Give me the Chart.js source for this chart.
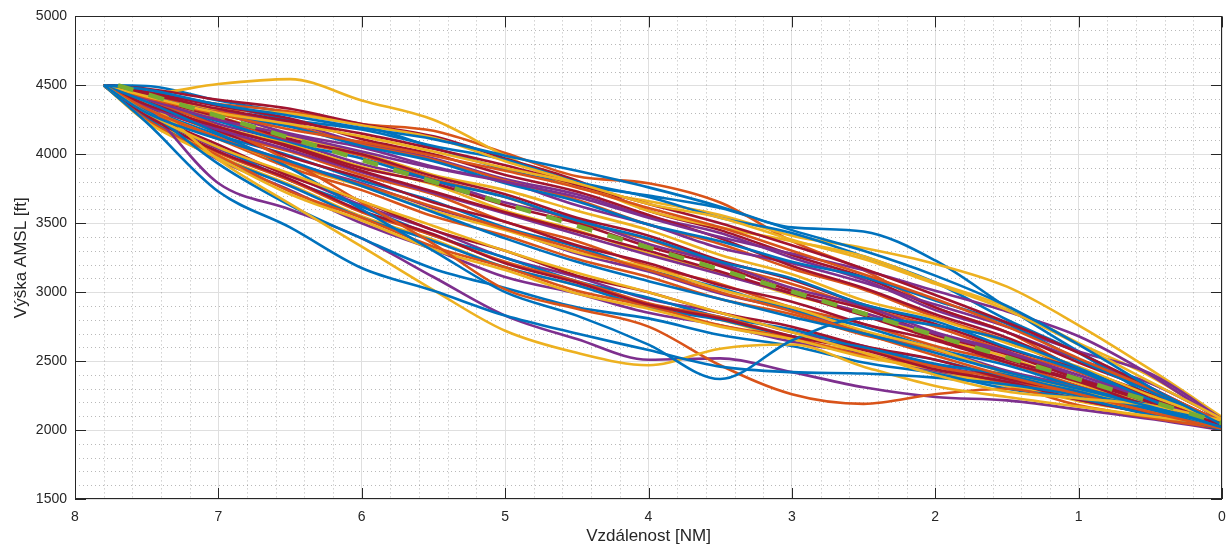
<!DOCTYPE html>
<html>
<head>
<meta charset="utf-8">
<script src="https://cdn.jsdelivr.net/npm/chart.js@4.4.1/dist/chart.umd.min.js"></script>
<style>
  html, body { margin: 0; padding: 0; background: #fff; }
  #wrap { width: 1228px; height: 549px; position: relative; }
</style>
</head>
<body>
<div id="wrap"><canvas id="profileChart"></canvas></div>
<script>
// vzdálenost od prahu [NM] - společná osa x pro všechny lety
const distanceNM = [7.8, 7.5, 7, 6.5, 6, 5.5, 5, 4.5, 4, 3.5, 3, 2.5, 2, 1.5, 1, 0.5, 0];

// výšky jednotlivých letů [ft]
const blueFlights = [
  [4500, 4495, 4390, 4300, 4210, 4050, 3890, 3780, 3700, 3610, 3470, 3440, 3230, 2890, 2570, 2290, 2020],
  [4500, 4455, 4360, 4250, 4180, 4060, 3960, 3800, 3690, 3540, 3430, 3260, 3070, 2800, 2560, 2250, 2030],
  [4500, 4425, 4290, 4200, 4060, 3950, 3790, 3660, 3490, 3370, 3220, 3110, 2940, 2770, 2510, 2280, 2030],
  [4500, 4370, 4240, 4080, 3970, 3810, 3690, 3520, 3390, 3220, 3100, 2910, 2790, 2600, 2430, 2210, 2030],
  [4500, 4340, 4140, 3990, 3810, 3660, 3470, 3330, 3160, 3030, 2870, 2750, 2590, 2470, 2310, 2180, 2010],
  [4500, 4290, 4050, 3810, 3620, 3410, 3250, 3080, 2960, 2820, 2730, 2600, 2510, 2380, 2280, 2130, 2010],
  [4500, 4260, 3980, 3770, 3540, 3370, 3180, 3050, 2890, 2800, 2680, 2600, 2480, 2400, 2270, 2160, 2010],
  [4500, 4320, 3930, 3630, 3390, 3170, 3030, 2890, 2810, 2690, 2610, 2490, 2410, 2300, 2230, 2110, 2010],
  [4500, 4230, 3730, 3470, 3175, 3010, 2830, 2700, 2580, 2460, 2420, 2410, 2380, 2330, 2250, 2150, 2000],
  [4500, 4380, 4150, 3900, 3600, 3300, 3000, 2830, 2620, 2370, 2650, 2810, 2760, 2650, 2450, 2220, 2010],
  [4500, 4470, 4360, 4280, 4190, 4110, 3990, 3880, 3760, 3620, 3450, 3300, 3120, 2900, 2620, 2310, 2040],
  [4500, 4300, 4110, 3950, 3770, 3580, 3390, 3220, 3080, 2950, 2820, 2700, 2560, 2420, 2300, 2170, 2020],
];
const orangeFlights = [
  [4500, 4445, 4365, 4310, 4220, 4170, 4010, 3840, 3790, 3650, 3370, 3160, 2890, 2710, 2440, 2260, 2050],
  [4500, 4430, 4310, 4210, 4070, 3960, 3810, 3670, 3490, 3350, 3170, 3020, 2820, 2650, 2430, 2250, 2040],
  [4500, 4380, 4250, 4100, 3990, 3820, 3690, 3510, 3380, 3200, 3060, 2890, 2750, 2570, 2420, 2220, 2050],
  [4500, 4360, 4160, 4020, 3850, 3710, 3510, 3370, 3190, 3060, 2890, 2770, 2610, 2490, 2320, 2190, 2030],
  [4500, 4310, 4110, 3900, 3740, 3550, 3410, 3240, 3110, 2950, 2840, 2690, 2580, 2420, 2300, 2140, 2020],
  [4500, 4280, 4010, 3810, 3580, 3410, 3220, 3080, 2920, 2820, 2680, 2590, 2460, 2370, 2240, 2130, 2000],
  [4500, 4250, 3990, 3730, 3540, 3330, 3180, 3010, 2900, 2760, 2670, 2540, 2460, 2340, 2260, 2120, 2020],
  [4500, 4400, 4200, 3950, 3650, 3350, 3020, 2880, 2750, 2470, 2260, 2190, 2260, 2300, 2180, 2090, 2010],
  [4500, 4410, 4290, 4180, 4090, 3990, 3880, 3760, 3610, 3470, 3300, 3130, 2950, 2750, 2520, 2300, 2060],
  [4500, 4330, 4120, 3930, 3780, 3620, 3460, 3310, 3160, 3000, 2860, 2700, 2540, 2390, 2260, 2130, 2010],
];
const yellowFlights = [
  [4500, 4440, 4510, 4545, 4390, 4250, 3990, 3760, 3660, 3560, 3410, 3320, 3205, 3040, 2760, 2440, 2095],
  [4500, 4405, 4330, 4295, 4210, 4120, 3950, 3790, 3590, 3470, 3370, 3260, 3070, 2890, 2630, 2390, 2070],
  [4500, 4395, 4270, 4130, 4010, 3850, 3740, 3590, 3450, 3270, 3130, 2940, 2810, 2630, 2460, 2250, 2060],
  [4500, 4370, 4200, 4070, 3910, 3780, 3590, 3450, 3280, 3140, 2980, 2850, 2670, 2530, 2340, 2190, 2030],
  [4500, 4330, 4120, 3920, 3770, 3590, 3450, 3290, 3180, 3020, 2890, 2720, 2590, 2410, 2290, 2150, 2040],
  [4500, 4270, 3990, 3780, 3550, 3380, 3180, 3050, 2900, 2800, 2660, 2560, 2420, 2330, 2210, 2120, 2010],
  [4500, 4235, 3970, 3710, 3520, 3310, 3160, 2990, 2880, 2750, 2660, 2530, 2440, 2320, 2250, 2130, 2030],
  [4500, 4380, 3960, 3640, 3330, 3015, 2720, 2560, 2470, 2590, 2620, 2460, 2320, 2240, 2170, 2100, 2040],
  [4500, 4420, 4300, 4220, 4130, 4020, 3900, 3790, 3640, 3540, 3380, 3240, 3060, 2870, 2620, 2350, 2080],
  [4500, 4300, 4050, 3860, 3660, 3480, 3300, 3140, 3000, 2850, 2710, 2560, 2400, 2280, 2230, 2180, 2070],
];
const purpleFlights = [
  [4500, 4445, 4320, 4230, 4080, 3970, 3820, 3710, 3550, 3430, 3250, 3090, 2870, 2710, 2510, 2340, 2080],
  [4500, 4415, 4300, 4150, 4050, 3910, 3800, 3630, 3490, 3320, 3210, 3070, 2910, 2750, 2570, 2410, 2080],
  [4500, 4390, 4220, 4090, 3930, 3810, 3650, 3530, 3350, 3210, 3030, 2900, 2710, 2570, 2380, 2220, 2030],
  [4500, 4320, 4130, 3940, 3790, 3610, 3460, 3280, 3150, 2990, 2870, 2710, 2590, 2430, 2310, 2150, 2010],
  [4500, 4300, 4040, 3850, 3630, 3450, 3250, 3110, 2950, 2850, 2710, 2610, 2470, 2370, 2230, 2130, 2000],
  [4500, 4265, 3960, 3740, 3500, 3310, 3110, 2990, 2850, 2760, 2640, 2550, 2430, 2350, 2220, 2120, 2000],
  [4500, 4330, 3790, 3600, 3390, 3110, 2830, 2660, 2510, 2520, 2420, 2310, 2240, 2215, 2150, 2080, 2000],
  [4500, 4400, 4250, 4140, 4020, 3900, 3800, 3690, 3540, 3400, 3280, 3160, 3010, 2860, 2680, 2400, 2060],
  [4500, 4350, 4180, 4030, 3870, 3720, 3570, 3420, 3270, 3130, 2990, 2850, 2700, 2560, 2400, 2220, 2030],
];
const redFlights = [
  [4500, 4475, 4395, 4330, 4220, 4130, 3970, 3810, 3590, 3450, 3270, 3110, 2890, 2710, 2490, 2290, 2060],
  [4500, 4450, 4350, 4260, 4110, 4000, 3850, 3730, 3560, 3390, 3190, 3030, 2840, 2670, 2450, 2260, 2040],
  [4500, 4410, 4270, 4110, 4000, 3840, 3710, 3540, 3410, 3230, 3090, 2910, 2770, 2590, 2440, 2230, 2040],
  [4500, 4385, 4190, 4060, 3900, 3790, 3630, 3500, 3330, 3190, 3010, 2880, 2690, 2550, 2370, 2210, 2030],
  [4500, 4350, 4170, 3980, 3830, 3650, 3510, 3340, 3210, 3050, 2930, 2770, 2650, 2490, 2350, 2170, 2020],
  [4500, 4300, 4070, 3840, 3660, 3450, 3300, 3120, 3000, 2850, 2750, 2610, 2510, 2370, 2270, 2120, 2010],
  [4500, 4280, 4020, 3820, 3590, 3420, 3210, 3070, 2910, 2810, 2680, 2580, 2440, 2350, 2220, 2120, 2000],
  [4500, 4440, 4330, 4240, 4150, 4040, 3920, 3780, 3640, 3500, 3340, 3170, 2980, 2780, 2560, 2310, 2050],
  [4500, 4360, 4200, 4050, 3880, 3730, 3580, 3440, 3300, 3150, 2990, 2830, 2660, 2510, 2360, 2200, 2040],
];

// sestupová rovina (zelená čárkovaná)
const glidePathNM = [7.7, 0];
const glidePathFt = [4500, 2050];

// osy
const xTicks = [0, 1, 2, 3, 4, 5, 6, 7, 8];
const yTicks = [1500, 2000, 2500, 3000, 3500, 4000, 4500, 5000];

const groups = [
  { rows: blueFlights, color: '#0072BD' },
  { rows: orangeFlights, color: '#D95319' },
  { rows: yellowFlights, color: '#EDB120' },
  { rows: purpleFlights, color: '#7E2F8E' },
  { rows: redFlights, color: '#A2142F' },
];

// lety střídáme po barvách jako v matlabu, pozdější jsou navrchu
const datasets = [];
const maxRows = Math.max(...groups.map(g => g.rows.length));
for (let i = 0; i < maxRows; i++) {
  groups.forEach(g => {
    const row = g.rows[i];
    if (!row) return;
    datasets.push({
      data: distanceNM.map((x, k) => ({ x: x, y: row[k] })),
      borderColor: g.color,
      borderWidth: 2.6,
      pointRadius: 0,
      cubicInterpolationMode: 'monotone',
      order: -datasets.length,
    });
  });
}
// sestupová rovina úplně navrch
datasets.push({
  data: glidePathNM.map((x, k) => ({ x: x, y: glidePathFt[k] })),
  borderColor: '#77AC30',
  borderWidth: 4.5,
  borderDash: [16, 16],
  pointRadius: 0,
  order: -9999,
});

// vedlejší mřížka, rámeček a ticky dovnitř
const matlabAxes = {
  id: 'matlabAxes',
  beforeDatasetsDraw(chart) {
    const { ctx, chartArea: a, scales: { x, y } } = chart;
    ctx.save();
    ctx.strokeStyle = 'rgba(38,38,38,0.32)';
    ctx.lineWidth = 1;
    ctx.setLineDash([1, 3]);
    ctx.beginPath();
    for (let i = 1; i < 40; i++) {
      if (i % 5 === 0) continue;
      const px = Math.round(x.getPixelForValue(i * 0.2)) + 0.5;
      ctx.moveTo(px, a.top);
      ctx.lineTo(px, a.bottom);
    }
    for (let v = 1600; v < 5000; v += 100) {
      if (v % 500 === 0) continue;
      const py = Math.round(y.getPixelForValue(v)) + 0.5;
      ctx.moveTo(a.left, py);
      ctx.lineTo(a.right, py);
    }
    ctx.stroke();
    ctx.restore();
  },
  afterDatasetsDraw(chart) {
    const { ctx, chartArea: a, scales: { x, y } } = chart;
    const len = 11;
    ctx.save();
    ctx.strokeStyle = '#262626';
    ctx.lineWidth = 1;
    ctx.beginPath();
    xTicks.forEach(v => {
      const px = Math.round(x.getPixelForValue(v)) + 0.5;
      ctx.moveTo(px, a.bottom);
      ctx.lineTo(px, a.bottom - len);
      ctx.moveTo(px, a.top);
      ctx.lineTo(px, a.top + len);
    });
    yTicks.forEach(v => {
      const py = Math.round(y.getPixelForValue(v)) + 0.5;
      ctx.moveTo(a.left, py);
      ctx.lineTo(a.left + len, py);
      ctx.moveTo(a.right, py);
      ctx.lineTo(a.right - len, py);
    });
    ctx.stroke();
    ctx.strokeRect(Math.round(a.left) + 0.5, Math.round(a.top) + 0.5,
      Math.round(a.right - a.left) - 1, Math.round(a.bottom - a.top) - 1);
    ctx.restore();
  },
};

const fontFamily = "'Liberation Sans', Arial, Helvetica, sans-serif";

new Chart(document.getElementById('profileChart'), {
  type: 'line',
  data: { datasets: datasets },
  options: {
    responsive: true,
    maintainAspectRatio: false,
    devicePixelRatio: 1,
    animation: false,
    layout: { padding: { top: 16, right: 6, left: 0, bottom: 0 } },
    plugins: {
      legend: { display: false },
      tooltip: { enabled: false },
    },
    scales: {
      x: {
        type: 'linear',
        reverse: true,
        min: 0,
        max: 8,
        afterFit: (s) => { s.height = 50; },
        afterBuildTicks: (s) => { s.ticks = xTicks.map(v => ({ value: v })); },
        ticks: {
          color: '#262626',
          padding: 10,
          maxRotation: 0,
          font: { family: fontFamily, size: 14 },
          callback: (v) => String(v),
        },
        grid: { color: '#dfdfdf', lineWidth: 1, drawTicks: false },
        border: { display: false },
        title: {
          display: true,
          text: 'Vzdálenost [NM]',
          color: '#262626',
          font: { family: fontFamily, size: 17 },
          padding: { top: 0, bottom: 2 },
        },
      },
      y: {
        type: 'linear',
        min: 1500,
        max: 5000,
        afterFit: (s) => { s.width = 75; },
        afterBuildTicks: (s) => { s.ticks = yTicks.map(v => ({ value: v })); },
        ticks: {
          color: '#262626',
          padding: 8,
          font: { family: fontFamily, size: 14 },
          callback: (v) => String(v),
        },
        grid: { color: '#dfdfdf', lineWidth: 1, drawTicks: false },
        border: { display: false },
        title: {
          display: true,
          text: 'Výška AMSL [ft]',
          color: '#262626',
          font: { family: fontFamily, size: 17 },
          padding: { top: 11, bottom: 0 },
        },
      },
    },
  },
  plugins: [matlabAxes],
});
</script>
</body>
</html>
